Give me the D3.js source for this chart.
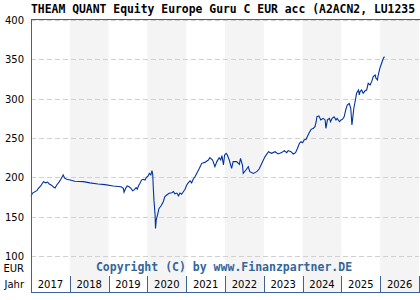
<!DOCTYPE html>
<html>
<head>
<meta charset="utf-8">
<script src="https://cdn.jsdelivr.net/npm/d3@7"></script>
<style>
body { margin: 0; background: #fff; }
svg { display: block; }
</style>
</head>
<body>
<script>
// fund price, decimal year -> EUR
let times = [2017.00, 2017.04, 2017.15, 2017.19, 2017.25, 2017.32, 2017.38, 2017.43, 2017.47, 2017.53,
    2017.57, 2017.62, 2017.66, 2017.73, 2017.77, 2017.83, 2017.87, 2017.92, 2018.01, 2018.13,
    2018.35, 2018.52, 2018.73, 2018.91, 2019.12, 2019.32, 2019.38, 2019.40, 2019.44, 2019.48,
    2019.53, 2019.58, 2019.62, 2019.66, 2019.71, 2019.74, 2019.78, 2019.81, 2019.85, 2019.89,
    2019.94, 2019.98, 2020.02, 2020.05, 2020.09, 2020.12, 2020.14, 2020.15, 2020.17, 2020.20,
    2020.21, 2020.23, 2020.27, 2020.30, 2020.35, 2020.41, 2020.45, 2020.50, 2020.56, 2020.63,
    2020.67, 2020.71, 2020.76, 2020.80, 2020.84, 2020.88, 2020.93, 2020.97, 2021.01, 2021.05,
    2021.10, 2021.14, 2021.18, 2021.23, 2021.27, 2021.34, 2021.40, 2021.48, 2021.57, 2021.61,
    2021.68, 2021.74, 2021.79, 2021.85, 2021.89, 2021.92, 2021.96, 2021.99, 2022.03, 2022.06,
    2022.11, 2022.17, 2022.21, 2022.30, 2022.37, 2022.40, 2022.45, 2022.47, 2022.54, 2022.60,
    2022.64, 2022.73, 2022.82, 2022.88, 2022.95, 2023.03, 2023.12, 2023.20, 2023.29, 2023.37,
    2023.46, 2023.53, 2023.59, 2023.63, 2023.70, 2023.76, 2023.82, 2023.87, 2023.92, 2023.96,
    2024.00, 2024.04, 2024.09, 2024.13, 2024.17, 2024.22, 2024.28, 2024.32, 2024.35, 2024.37,
    2024.42, 2024.47, 2024.53, 2024.58, 2024.60, 2024.64, 2024.69, 2024.72, 2024.76, 2024.81,
    2024.86, 2024.89, 2024.95, 2024.99, 2025.03, 2025.07, 2025.11, 2025.15, 2025.20, 2025.24,
    2025.27, 2025.29, 2025.32, 2025.36, 2025.39, 2025.44, 2025.46, 2025.48, 2025.52, 2025.56,
    2025.61, 2025.65, 2025.69, 2025.74, 2025.78, 2025.82, 2025.87, 2025.89, 2025.93, 2025.94,
    2025.97, 2025.99, 2026.02, 2026.05, 2026.08, 2026.11];

let prices = [176, 180, 183, 186, 189, 194.5, 193, 194, 191.5, 190,
    188, 186.5, 190, 194.5, 197.5, 203, 199, 197.5, 196.5, 195,
    194.5, 193, 191.5, 190.7, 189, 188, 186, 181, 186, 189,
    188, 186, 183, 184, 187, 185, 190, 192.5, 196.5, 197.5,
    196.5, 200, 201.7, 205, 203, 208.5, 203, 190, 171, 152,
    135, 146, 154, 160.5, 163.5, 169, 175.5, 177.5, 179.7, 180.5,
    182, 179, 180, 176.5, 180, 178.5, 182, 184.8, 190, 193,
    195.6, 193, 197.5, 201, 205, 211.5, 217.8, 219, 222, 225,
    222, 213.5, 220, 225, 222, 227.5, 215.7, 228.4, 230.5, 228.4,
    222, 211.5, 220, 220, 216.6, 224.2, 215.7, 205, 209.3, 213.5,
    207.2, 205, 207.2, 210.6, 218, 226, 232.6, 230.5, 232.6, 229.7,
    231.4, 234, 231.4, 234, 232.6, 229.7, 231.4, 237, 243.3, 245.3,
    244, 247.5, 248.4, 252.5, 256.8, 261, 262.3, 264.4, 270.7, 277,
    278, 273, 275, 273, 262.3, 273, 275, 270.7, 275, 277,
    273, 275, 270.7, 273, 274, 277, 285.6, 292, 294, 287.8,
    266.6, 275, 287.8, 298.3, 306.8, 311, 304.7, 309, 311, 306.8,
    310, 311, 319.5, 317.4, 321.6, 328, 330, 326, 323.7, 328,
    334.3, 338.6, 342.8, 347, 351.3, 353.4];

let yTicks = [100, 150, 200, 250, 300, 350, 400];
let years = [2017, 2018, 2019, 2020, 2021, 2022, 2023, 2024, 2025, 2026];

let title = "THEAM QUANT Equity Europe Guru C EUR acc (A2ACN2, LU1235";
let copyright = "Copyright (C) by www.Finanzpartner.DE";

function toDate(t) {
    let y = Math.floor(t);
    let y0 = new Date(y, 0, 1), y1 = new Date(y + 1, 0, 1);
    return new Date(+y0 + (t - y) * (y1 - y0));
}

function main() {
    let width = 420, height = 300;
    let left = 31, right = 419;
    let plotTop = 20, plotBottom = 256;
    let bandBottom = 276, axisBottom = 292;
    let frame = "#3d6394";

    let svg = d3.select("body").append("svg")
        .attr("width", width)
        .attr("height", height);

    let x = d3.scaleTime()
        .domain([new Date(2017, 0, 1), new Date(2027, 0, 1)])
        .range([left, right]);

    let y = d3.scaleLinear()
        .domain([100, 400])
        .range([plotBottom, plotTop]);

    // alternating year bands
    svg.selectAll("rect.band")
        .data(years.filter((d, i) => i % 2 === 1))
        .enter()
        .append("rect")
        .attr("class", "band")
        .attr("x", d => x(new Date(d, 0, 1)))
        .attr("y", plotTop)
        .attr("width", d => x(new Date(d + 1, 0, 1)) - x(new Date(d, 0, 1)))
        .attr("height", axisBottom - plotTop)
        .style("fill", "#f4f4f4");

    // grid lines
    svg.selectAll("line.grid")
        .data(yTicks)
        .enter()
        .append("line")
        .attr("class", "grid")
        .attr("x1", left)
        .attr("x2", right)
        .attr("y1", d => Math.round(y(d)) + 0.5)
        .attr("y2", d => Math.round(y(d)) + 0.5)
        .style("stroke", "#d0d0d0")
        .style("stroke-dasharray", "5,3");

    svg.selectAll("text.ytick")
        .data(yTicks)
        .enter()
        .append("text")
        .attr("class", "ytick")
        .attr("x", 24)
        .attr("y", d => y(d) + 4)
        .attr("text-anchor", "end")
        .style("font-family", "DejaVu Sans")
        .style("font-size", "10px")
        .style("fill", "#000")
        .text(d => d);

    // price line
    let data = times.map((t, i) => ({date: toDate(t), value: prices[i]}));
    let line = d3.line()
        .x(d => x(d.date))
        .y(d => y(d.value));

    svg.append("path")
        .datum(data)
        .attr("d", line)
        .style("fill", "none")
        .style("stroke", "#0033a0")
        .style("stroke-width", 1.1)
        .style("stroke-linejoin", "miter");

    // year axis
    svg.selectAll("line.ysep")
        .data(years.concat([2027]))
        .enter()
        .append("line")
        .attr("class", "ysep")
        .attr("x1", d => Math.round(x(new Date(d, 0, 1))) + 0.5)
        .attr("x2", d => Math.round(x(new Date(d, 0, 1))) + 0.5)
        .attr("y1", bandBottom)
        .attr("y2", axisBottom)
        .style("stroke", frame);

    svg.append("line")
        .attr("x1", left).attr("x2", right + 1)
        .attr("y1", axisBottom + 0.5).attr("y2", axisBottom + 0.5)
        .style("stroke", frame);

    svg.selectAll("text.year")
        .data(years)
        .enter()
        .append("text")
        .attr("class", "year")
        .attr("x", d => (x(new Date(d, 0, 1)) + x(new Date(d + 1, 0, 1))) / 2)
        .attr("y", 288)
        .attr("text-anchor", "middle")
        .style("font-family", "DejaVu Sans")
        .style("font-size", "10px")
        .style("fill", "#000")
        .text(d => d);

    // frame: top and left
    svg.append("line")
        .attr("x1", left).attr("x2", right + 1)
        .attr("y1", plotTop - 0.5).attr("y2", plotTop - 0.5)
        .style("stroke", frame);
    svg.append("line")
        .attr("x1", left + 0.5).attr("x2", left + 0.5)
        .attr("y1", plotTop - 1).attr("y2", axisBottom + 1)
        .style("stroke", frame);

    svg.append("text")
        .attr("x", 24).attr("y", 272)
        .attr("text-anchor", "end")
        .style("font-family", "DejaVu Sans")
        .style("font-size", "10px")
        .text("EUR");
    svg.append("text")
        .attr("x", 24).attr("y", 288)
        .attr("text-anchor", "end")
        .style("font-family", "DejaVu Sans")
        .style("font-size", "10px")
        .text("Jahr");

    svg.append("text")
        .attr("x", 224).attr("y", 271)
        .attr("text-anchor", "middle")
        .style("font-family", "DejaVu Sans Mono")
        .style("font-weight", "bold")
        .style("font-size", "11.5px")
        .style("fill", "#336699")
        .text(copyright);

    svg.append("text")
        .attr("x", 31).attr("y", 13)
        .style("font-family", "DejaVu Sans Mono")
        .style("font-weight", "bold")
        .style("font-size", "11.4px")
        .style("fill", "#000")
        .text(title);
}

main();
</script>
</body>
</html>
